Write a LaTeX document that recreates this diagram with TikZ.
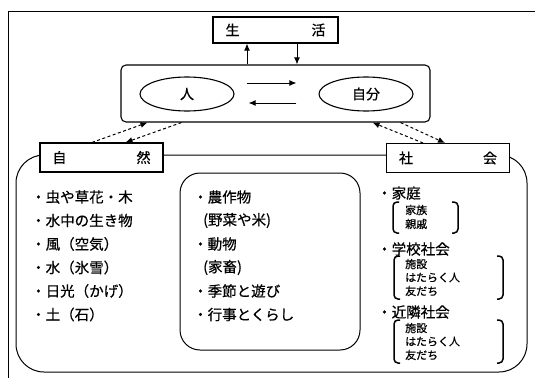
\documentclass[tikz,border=0pt]{standalone}
\usepackage{fontspec}
\setmainfont{Noto Sans CJK JP}[FakeBold=0.7]
\usetikzlibrary{positioning,arrows.meta,calc,shapes.geometric}

\newcommand\bracketpair[4]{%
  \draw[brace] (#1+6,#2) -- (#1,#2) -- (#1,#4) -- (#1+6,#4);
  \draw[brace] (#3-6,#2) -- (#3,#2) -- (#3,#4) -- (#3-6,#4);}

\begin{document}
\begin{tikzpicture}[x=1pt, y=-1pt,
    box/.style={draw, line width=1.1pt, fill=white, inner sep=0pt},
    tag/.style={box, minimum width=123pt, minimum height=29pt, text width=98pt, font=\fontsize{14}{16}\selectfont},
    oval/.style={draw, line width=1.1pt, ellipse, minimum width=94pt, minimum height=34pt, font=\fontsize{14}{16}\selectfont},
    item/.style={anchor=west, inner sep=0pt, font=\fontsize{14.5}{17}\selectfont},
    small/.style={anchor=west, inner sep=0pt, font=\fontsize{11}{12}\selectfont},
    link/.style={-{Latex[length=7pt,width=6pt]}, line width=1pt},
    dlink/.style={-{Latex[length=7pt,width=6pt]}, line width=1pt, dash pattern=on 3pt off 2.5pt},
    brace/.style={line width=1.5pt, rounded corners=4pt}]
  \useasboundingbox (0,0) rectangle (535,378);
  \draw[line width=1pt] (535,11) -- (8,11) -- (8,378);

  \node[box, minimum width=125pt, minimum height=26pt, text width=100pt, font=\fontsize{14}{16}\selectfont] (life) at (275.5,30) {生\hfill 活};
  \node[box, rounded corners=5pt, minimum width=309pt, minimum height=57pt] (core) at (275.5,93.5) {};
  \node[oval] (hito) at (187,94) {人};
  \node[oval] (jibun) at (366,94) {自分};
  \draw[link] ([xshift=-28.5pt]core.north) -- ([xshift=-28.5pt]life.south);
  \draw[link] ([xshift=21.5pt]life.south) -- ([xshift=21.5pt]core.north);
  \draw[link] ([shift={(12pt,11pt)}]hito.east) -- ([shift={(-22pt,11pt)}]jibun.west);
  \draw[link] ([shift={(-22pt,-9pt)}]jibun.west) -- ([shift={(14pt,-9pt)}]hito.east);

  \node[draw, line width=1pt, rounded corners=28pt, minimum width=511pt, minimum height=217pt] (field) at (271.5,263.5) {};
  \node[draw, line width=1pt, rounded corners=20pt, minimum width=180pt, minimum height=177pt] (farm) at (270,261.5) {};
  \node[tag] (nature) at (101.5,157.5) {自\hfill 然};
  \node[tag] (society) at (448,158) {社\hfill 会};

  \draw[dlink] ([xshift=-9.5pt]nature.north) -- ([xshift=27pt]core.south west);
  \draw[dlink] ([xshift=61pt]core.south west) -- ([xshift=24pt]nature.north);
  \draw[dlink] ([xshift=-25pt]society.north) -- ([xshift=-58pt]core.south east);
  \draw[dlink] ([xshift=-30pt]core.south east) -- ([xshift=-3pt]society.north);

  \foreach \txt [count=\i] in {・虫や草花・木, ・水中の生き物, ・風（空気）, ・水（氷雪）, ・日光（かげ）, ・土（石）}
    \node[item] (nat\i) at (31,173.5+23.5*\i) {\txt};
  \foreach \txt/\xx [count=\i] in {・農作物/193, (野菜や米)/203, ・動物/193, (家畜)/203, ・季節と遊び/193, ・行事とくらし/193}
    \node[item] (crop\i) at (\xx,173.5+23.5*\i) {\txt};

  \node[item] (home) at (377,193) {・家庭};
  \node[item] (school) at (377,249) {・学校社会};
  \node[item] (town) at (377,312) {・近隣社会};
  \foreach \txt/\yy [count=\i] in {家族/210, 親戚/224, 施設/264, はたらく人/277.5, 友だち/291, 施設/328, はたらく人/341.5, 友だち/355}
    \node[small] (soc\i) at (405,\yy) {\txt};
  \bracketpair{393}{202}{458}{233}
  \bracketpair{394}{256}{503}{299}
  \bracketpair{394}{320}{503}{363}
\end{tikzpicture}
\end{document}
